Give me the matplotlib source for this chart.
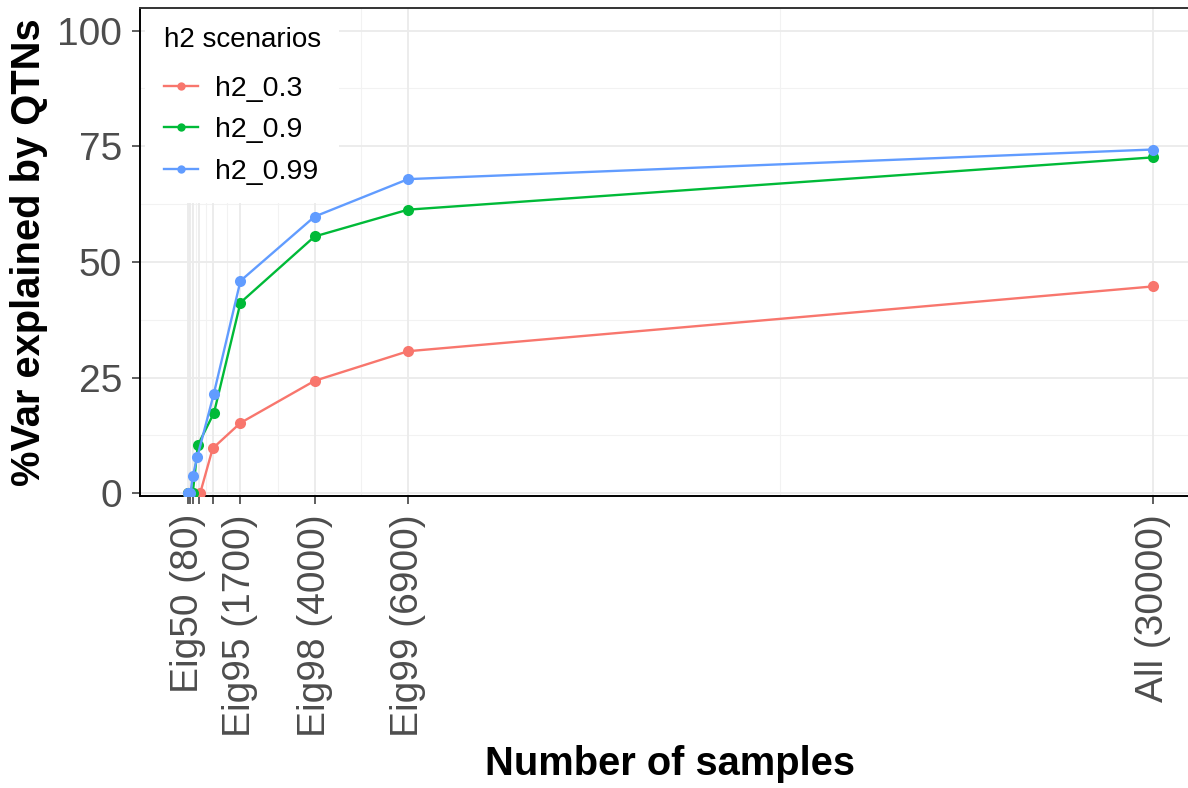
import matplotlib
matplotlib.use("Agg")
import matplotlib.pyplot as plt
import numpy as np

plt.rcParams['font.family'] = ['Liberation Sans', 'DejaVu Sans']

# ---- data ----
series_names = ["h2_0.3", "h2_0.9", "h2_0.99"]
colors = ["#F8766D", "#00BA38", "#619CFF"]

x_h2_03 = [80, 150, 220, 450, 840, 1700, 4000, 6900, 30000]
y_h2_03 = [0, 0, 0, 0, 9.7, 15.2, 24.3, 30.7, 44.7]

x_h2_09 = [80, 150, 220, 380, 880, 1700, 4000, 6900, 30000]
y_h2_09 = [0, 0, 0, 10.4, 17.4, 41.2, 55.5, 61.3, 72.6]

x_h2_099 = [80, 150, 220, 360, 870, 1700, 4000, 6900, 30000]
y_h2_099 = [0, 0, 3.7, 7.8, 21.4, 45.9, 59.8, 67.9, 74.3]

x_breaks = [80, 150, 220, 400, 850, 1700, 4000, 6900, 30000]
x_labels = ["Eig50 (80)", "", "", "", "", "Eig95 (1700)", "Eig98 (4000)",
            "Eig99 (6900)", "All (30000)"]
y_breaks = [0, 25, 50, 75, 100]

xs = [x_h2_03, x_h2_09, x_h2_099]
ys = [y_h2_03, y_h2_09, y_h2_099]

# ---- figure ----
W, H = 1188, 788
fig = plt.figure(figsize=(W / 100, H / 100), dpi=100)
left_px, right_px, top_px, bottom_px = 140, 1201, 7.5, 496
ax = fig.add_axes([left_px / W, 1 - bottom_px / H,
                   (right_px - left_px) / W, (bottom_px - top_px) / H])

xmin_d, xmax_d = min(x_breaks), max(x_breaks)
span = xmax_d - xmin_d
ax.set_xlim(xmin_d - 0.05 * span, xmax_d + 0.05 * span)
ax.set_ylim(-0.6, 105)

xb = np.array(x_breaks, dtype=float)
x_minor = (xb[:-1] + xb[1:]) / 2
yb = np.array(y_breaks, dtype=float)
y_minor = (yb[:-1] + yb[1:]) / 2
for v in x_minor:
    ax.axvline(v, color="#F2F2F2", lw=0.8, zorder=0)
for v in y_minor:
    ax.axhline(v, color="#F2F2F2", lw=0.8, zorder=0)
for v in xb:
    ax.axvline(v, color="#EBEBEB", lw=1.3, zorder=0.5)
for v in yb:
    ax.axhline(v, color="#EBEBEB", lw=1.3, zorder=0.5)

for name, c, x, y in zip(series_names, colors, xs, ys):
    ax.plot(x, y, color=c, lw=1.7, marker="o", markersize=8,
            markeredgewidth=0, label=name, zorder=3)

ax.set_xticks(x_breaks)
ax.set_xticklabels(x_labels, rotation=90, ha="center", va="top")
ax.set_yticks(y_breaks)
ax.tick_params(axis="both", colors="#333333", labelcolor="#4D4D4D",
               labelsize=28, length=6, width=1.1)
ax.tick_params(axis="x", pad=7)
ax.tick_params(axis="y", pad=7)

for s in ["left", "bottom"]:
    ax.spines[s].set_color("black")
    ax.spines[s].set_linewidth(1.4)
for s in ["top", "right"]:
    ax.spines[s].set_color("#333333")
    ax.spines[s].set_linewidth(1.4)

ax.set_xlabel("Number of samples", fontsize=28.7, fontweight="bold", va="center")
ax.set_ylabel("%Var explained by QTNs", fontsize=28.7, fontweight="bold", va="center")
ax.xaxis.set_label_coords((670 - left_px) / (right_px - left_px),
                          (bottom_px - 764) / (bottom_px - top_px))
ax.yaxis.set_label_coords((29 - left_px) / (right_px - left_px), 0.5)

leg = ax.legend(title="h2 scenarios", loc="upper left",
                bbox_to_anchor=(145 / W, 1 - 8.5 / H),
                bbox_transform=fig.transFigure,
                fontsize=20.5, title_fontsize=20, alignment="left",
                frameon=True, facecolor="white", edgecolor="none",
                framealpha=1, fancybox=False,
                handlelength=1.2, handletextpad=0.62, labelspacing=0.55,
                borderpad=0.65, borderaxespad=0)
leg.set_zorder(5)
try:
    leg._legend_box.sep = 0.55 * 20.5 + 5
except Exception:
    pass
for h in leg.legend_handles:
    h.set_markersize(6)
    h.set_linewidth(1.7)

fig.savefig("out.png", dpi=100)
